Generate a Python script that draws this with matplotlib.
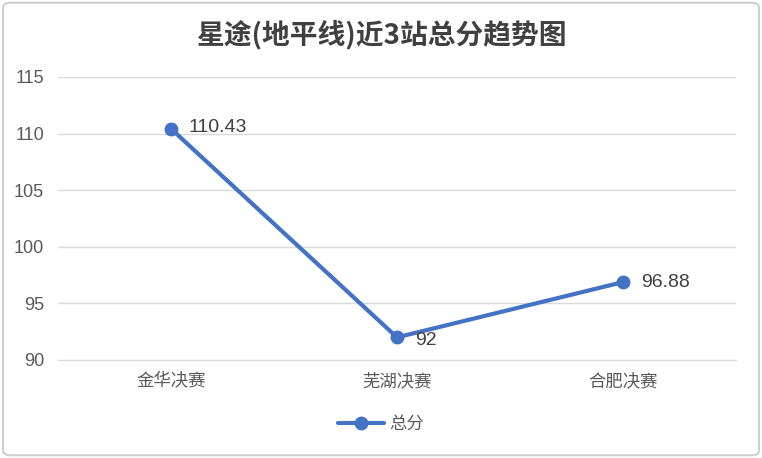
import matplotlib
matplotlib.use('Agg')
import matplotlib.pyplot as plt
from matplotlib.patches import FancyBboxPatch

plt.rcParams['font.family'] = ['Noto Sans CJK SC', 'DejaVu Sans']

# données
stations = ['金华决赛', '芜湖决赛', '合肥决赛']
scores = [110.43, 92, 96.88]
score_labels = ['110.43', '92', '96.88']
y_ticks = [90, 95, 100, 105, 110, 115]
title = '星途(地平线)近3站总分趋势图'
series_name = '总分'

blue = '#4472c4'
num_font = ['Liberation Sans', 'DejaVu Sans']

fig = plt.figure(figsize=(7.62, 4.58), dpi=100)
fig.patch.set_facecolor('white')

# cadre arrondi
frame = FancyBboxPatch((0.004, 0.006), 0.992, 0.988, boxstyle='round,pad=0,rounding_size=0.01',
                       transform=fig.transFigure, facecolor='white', edgecolor='#cfcfcf',
                       linewidth=1.5, zorder=-10)
fig.patches.append(frame)

ax = fig.add_axes([0.076, 0.214, 0.890, 0.618])
x = list(range(len(stations)))
ax.plot(x, scores, color=blue, linewidth=3, marker='o', markersize=9, label=series_name,
        solid_capstyle='round', zorder=3)

offsets = [(13, 1, 'left', 'center'), (13, -2, 'left', 'center'), (13, 0, 'left', 'center')]
for xi, yi, lab, (dx, dy, ha, va) in zip(x, scores, score_labels, offsets):
    ax.annotate(lab, (xi, yi), xytext=(dx, dy), textcoords='offset points', ha=ha, va=va,
                fontsize=14, color='#404040', family=num_font, zorder=4)

ax.set_xlim(-0.5, len(stations) - 0.5)
ax.set_ylim(90, 115)
ax.set_yticks(y_ticks)
ax.set_xticks(x)
ax.set_xticklabels(stations, fontsize=12.5)
for t in ax.get_yticklabels():
    t.set_family(num_font)
    t.set_fontsize(13)
ax.grid(axis='y', color='#d9d9d9', linewidth=1)
ax.set_axisbelow(True)
for s in ['top', 'right', 'left']:
    ax.spines[s].set_visible(False)
ax.spines['bottom'].set_color('#d9d9d9')
ax.tick_params(axis='both', length=0, colors='#595959')
ax.tick_params(axis='x', pad=9)
ax.tick_params(axis='y', pad=10)

fig.text(0.5, 0.925, title, ha='center', va='center', fontsize=20, fontweight='bold', color='#404040')

fig.legend(loc='center', bbox_to_anchor=(0.5, 0.075), frameon=False, fontsize=12.5,
           labelcolor='#595959', handlelength=2.6, handletextpad=0.3)

fig.savefig('out.png', dpi=100)
